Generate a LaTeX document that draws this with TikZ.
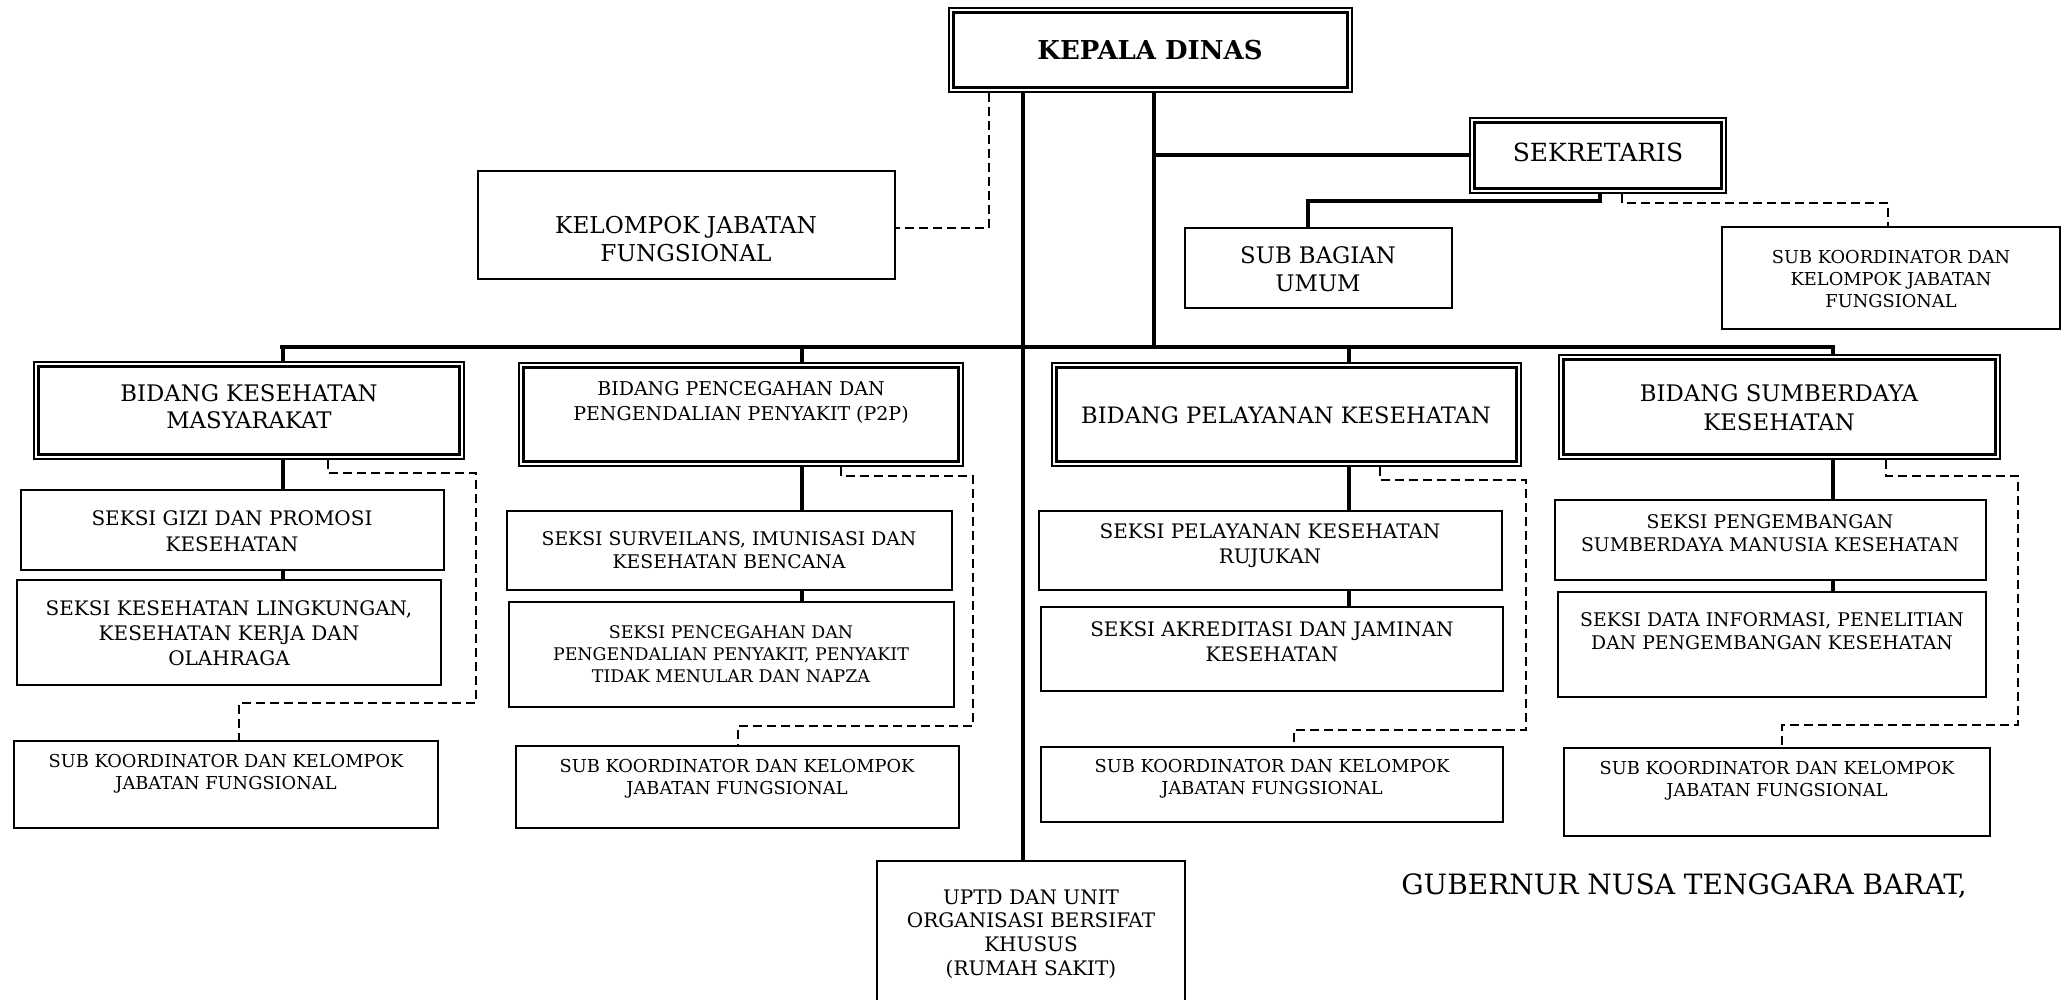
\documentclass[tikz,border=0pt]{standalone}
\usepackage{fontspec}
\setmainfont{DejaVu Serif}
\usetikzlibrary{fit}
\newcommand\fz[2]{\fontsize{#1}{#2}\selectfont}
\begin{document}
\begin{tikzpicture}[x=0.5pt,y=-0.5pt,
 box/.style={draw, line width=0.75pt, inner sep=0pt},
 dbl/.style={draw, line width=0.85pt, inner sep=0pt,
   path picture={\draw[line width=1.6pt] ([xshift=2.4pt,yshift=-2.4pt]path picture bounding box.north west) rectangle ([xshift=-2.4pt,yshift=2.4pt]path picture bounding box.south east);}},
 conn/.style={line width=1.6pt},
 dashln/.style={line width=1pt, dash pattern=on 4.5pt off 2.5pt},
 txt/.style={align=center, inner sep=0pt}]
\useasboundingbox (0,0) rectangle (2070,1000);
\fill[white] (0,0) rectangle (2070,1000);

% boxes
\node[dbl, fit={(949,8) (1352,92)}] (kepala) {};
\node[dbl, fit={(1470,118) (1726,193)}] (sek) {};
\node[box, fit={(1185,228) (1452,308)}] (subbag) {};
\node[box, fit={(478,171) (895,279)}] (kjf) {};
\node[box, fit={(1722,227) (2060,329)}] (skr) {};

\node[dbl, fit={(34,362) (464,459)}] (bkm) {};
\node[box, fit={(21,490) (444,570)}] (sgizi) {};
\node[box, fit={(17,580) (441,685)}] (skesling) {};
\node[box, fit={(14,741) (438,828)}] (sk1) {};

\node[dbl, fit={(519,363) (963,466)}] (bp2p) {};
\node[box, fit={(507,511) (952,590)}] (ssurv) {};
\node[box, fit={(509,602) (954,707)}] (spp) {};
\node[box, fit={(516,746) (959,828)}] (sk2) {};

\node[dbl, fit={(1052,363) (1521,466)}] (bpk) {};
\node[box, fit={(1039,511) (1502,590)}] (srujuk) {};
\node[box, fit={(1041,607) (1503,691)}] (sakr) {};
\node[box, fit={(1041,747) (1503,822)}] (sk3) {};

\node[dbl, fit={(1559,355) (2000,459)}] (bsdk) {};
\node[box, fit={(1555,500) (1986,580)}] (ssdm) {};
\node[box, fit={(1558,592) (1986,697)}] (sdata) {};
\node[box, fit={(1564,748) (1990,836)}] (sk4) {};

\node[box, fit={(877,861) (1185,1015)}] (uptd) {};

% texts
\node[txt, font=\bfseries\fz{13}{15.6}] (tkepala) at (1150,50) {KEPALA DINAS};
\node[txt, font=\fz{12.5}{15}] (tsek) at (1598,152) {SEKRETARIS};
\node[txt, font=\fz{11.4}{14}] (tsubbag) at (1318,269) {SUB BAGIAN\\UMUM};
\node[txt, font=\fz{11.6}{14.2}] (tkjf) at (686,239) {KELOMPOK JABATAN\\FUNGSIONAL};
\node[txt, font=\fz{8.9}{11}] (tskr) at (1891,279) {SUB KOORDINATOR DAN\\KELOMPOK JABATAN\\FUNGSIONAL};

\node[txt, font=\fz{11.4}{13.5}] (tbkm) at (249,407) {BIDANG KESEHATAN\\MASYARAKAT};
\node[txt, font=\fz{10}{13}] (tsgizi) at (232,531) {SEKSI GIZI DAN PROMOSI\\KESEHATAN};
\node[txt, font=\fz{10}{12.5}] (tskesling) at (229,633) {SEKSI KESEHATAN LINGKUNGAN,\\KESEHATAN KERJA DAN\\OLAHRAGA};
\node[txt, font=\fz{8.9}{10.8}] (tsk1) at (226,774) {SUB KOORDINATOR DAN KELOMPOK\\JABATAN FUNGSIONAL};

\node[txt, font=\fz{9.5}{12.5}] (tbp2p) at (741,402.5) {BIDANG PENCEGAHAN DAN\\PENGENDALIAN PENYAKIT (P2P)};
\node[txt, font=\fz{9.4}{11.5}] (tssurv) at (729,550) {SEKSI SURVEILANS, IMUNISASI DAN\\KESEHATAN BENCANA};
\node[txt, font=\fz{8.7}{11}] (tspp) at (731,654) {SEKSI PENCEGAHAN DAN\\PENGENDALIAN PENYAKIT, PENYAKIT\\TIDAK MENULAR DAN NAPZA};
\node[txt, font=\fz{8.9}{10.8}] (tsk2) at (737,778.5) {SUB KOORDINATOR DAN KELOMPOK\\JABATAN FUNGSIONAL};

\node[txt, font=\fz{11.3}{13.5}] (tbpk) at (1286,415) {BIDANG PELAYANAN KESEHATAN};
\node[txt, font=\fz{10}{12.5}] (tsrujuk) at (1270,545.5) {SEKSI PELAYANAN KESEHATAN\\RUJUKAN};
\node[txt, font=\fz{10}{12.5}] (tsakr) at (1272,641.5) {SEKSI AKREDITASI DAN JAMINAN\\KESEHATAN};
\node[txt, font=\fz{8.9}{10.8}] (tsk3) at (1272,778.5) {SUB KOORDINATOR DAN KELOMPOK\\JABATAN FUNGSIONAL};

\node[txt, font=\fz{11.4}{14.2}] (tbsdk) at (1779,407.5) {BIDANG SUMBERDAYA\\KESEHATAN};
\node[txt, font=\fz{9.4}{11.5}] (tssdm) at (1770,533.5) {SEKSI PENGEMBANGAN\\SUMBERDAYA MANUSIA KESEHATAN};
\node[txt, font=\fz{9.4}{11.5}] (tsdata) at (1772,631.5) {SEKSI DATA INFORMASI, PENELITIAN\\DAN PENGEMBANGAN KESEHATAN};
\node[txt, font=\fz{8.9}{10.8}] (tsk4) at (1777,781) {SUB KOORDINATOR DAN KELOMPOK\\JABATAN FUNGSIONAL};

\node[txt, font=\fz{10}{11.8}] (tuptd) at (1031,934) {UPTD DAN UNIT\\ORGANISASI BERSIFAT\\KHUSUS\\(RUMAH SAKIT)};
\node[txt, font=\fz{14}{17}] (gub) at (1684,886) {GUBERNUR NUSA TENGGARA BARAT,};

% coordinates
\coordinate (mx) at (1023,0);
\coordinate (sx) at (1154,0);
\coordinate (busL) at (280,347);
\coordinate (busR) at (1835,347);
\coordinate (c1) at (283,347);
\coordinate (c2) at (802,347);
\coordinate (c3) at (1349,347);
\coordinate (c4) at (1833,347);

% main connectors
\draw[conn] (kepala.south -| mx) -- (uptd.north -| mx);
\draw[conn] (kepala.south -| sx) -- (sx |- busL);
\draw[conn] (busL) -- (busR);
\coordinate (sj) at (1154,155);
\draw[conn] (sj) -- (sj -| sek.west);
\coordinate (sb1) at (1600,201);
\coordinate (sb2) at (1308,0);
\draw[conn] (sek.south -| sb1) -- (sb1) -| (sb2 |- subbag.north);
\coordinate (sd1) at (1622,203);
\coordinate (sd2) at (1888,0);
\draw[dashln] (sek.south -| sd1) -- (sd1) -| (sd2 |- skr.north);
\coordinate (kd) at (989,228);
\draw[dashln] (kepala.south -| kd) -- (kd) -- (kd -| kjf.east);

% bidang 1
\draw[conn] (c1) -- (c1 |- bkm.north);
\draw[conn] (c1 |- bkm.south) -- (c1 |- sgizi.north);
\draw[conn] (c1 |- sgizi.south) -- (c1 |- skesling.north);
\coordinate (d1a) at (328,473);
\coordinate (d1b) at (476,703);
\coordinate (d1c) at (239,0);
\draw[dashln] (bkm.south -| d1a) -- (d1a) -| (d1b) -| (d1c |- sk1.north);

% bidang 2
\draw[conn] (c2) -- (c2 |- bp2p.north);
\draw[conn] (c2 |- bp2p.south) -- (c2 |- ssurv.north);
\draw[conn] (c2 |- ssurv.south) -- (c2 |- spp.north);
\coordinate (d2a) at (841,476);
\coordinate (d2b) at (973,726);
\coordinate (d2c) at (738,0);
\draw[dashln] (bp2p.south -| d2a) -- (d2a) -| (d2b) -| (d2c |- sk2.north);

% bidang 3
\draw[conn] (c3) -- (c3 |- bpk.north);
\draw[conn] (c3 |- bpk.south) -- (c3 |- srujuk.north);
\draw[conn] (c3 |- srujuk.south) -- (c3 |- sakr.north);
\coordinate (d3a) at (1380,480);
\coordinate (d3b) at (1526,730);
\coordinate (d3c) at (1294,0);
\draw[dashln] (bpk.south -| d3a) -- (d3a) -| (d3b) -| (d3c |- sk3.north);

% bidang 4
\draw[conn] (c4) -- (c4 |- bsdk.north);
\draw[conn] (c4 |- bsdk.south) -- (c4 |- ssdm.north);
\draw[conn] (c4 |- ssdm.south) -- (c4 |- sdata.north);
\coordinate (d4a) at (1886,476);
\coordinate (d4b) at (2018,725);
\coordinate (d4c) at (1782,0);
\draw[dashln] (bsdk.south -| d4a) -- (d4a) -| (d4b) -| (d4c |- sk4.north);
\end{tikzpicture}
\end{document}
